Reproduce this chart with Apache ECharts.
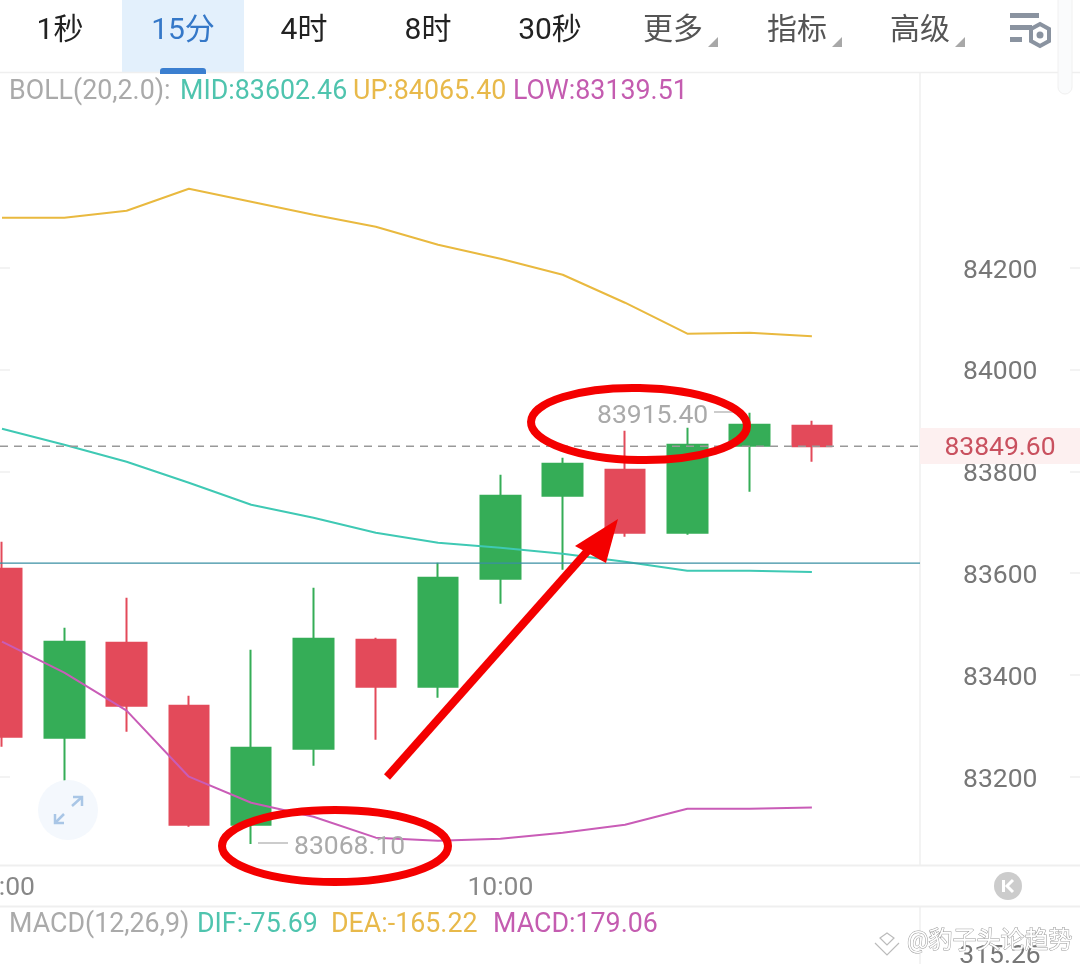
<!DOCTYPE html>
<html><head><meta charset="utf-8">
<style>html,body{margin:0;padding:0;background:#fff;overflow:hidden}#c{width:1080px;height:964px}</style>
<script src="https://cdn.jsdelivr.net/npm/echarts@6/dist/echarts.min.js"></script>
</head><body><div id="c"></div>
<script>
const times = ['08:00','08:15','08:30','08:45','09:00','09:15','09:30','09:45','10:00','10:15','10:30','10:45','11:00','11:15','',''];
const opens  = [83608.8,83276.8,83463.5,83339.7,83105.9,83255.2,83469.4,83377.0,83589.2,83752.3,83803.3,83679.6,83850.5,83889.8];
const closes = [83278.8,83465.4,83339.7,83105.9,83257.2,83471.3,83377.0,83591.2,83752.3,83815.1,83679.6,83852.5,83891.7,83849.6];
const lows   = [83259.1,83168.8,83288.6,83102.0,83068.1,83221.8,83272.9,83355.4,83540.1,83606.9,83671.7,83675.6,83760.1,83819.0];
const highs  = [83661.9,83492.9,83551.9,83359.3,83449.7,83571.5,83473.3,83620.6,83793.5,83826.9,83880.0,83885.8,83915.4,83899.6];
const bollUp  = [84298.4,84298.4,84312.2,84355.4,84329.8,84304.3,84280.7,84245.4,84217.9,84186.4,84131.4,84070.5,84072.5,84065.4];
const bollMid = [83883.9,83852.5,83819.0,83777.8,83734.6,83709.0,83679.6,83659.9,83650.1,83638.3,83622.6,83604.9,83604.9,83602.46];
const bollLow = [83465.4,83404.5,83329.9,83200.2,83149.1,83121.6,83080.4,83074.5,83078.4,83090.2,83105.9,83137.3,83137.3,83139.51];
const yTicks = [83200,83400,83600,83800,84000,84200];
const lastPrice = 83849.6;
const refLine = 83619.6;
const tabs = [['1秒',60,'#222'],['15分',183,'#3578c8'],['4时',304,'#222'],['8时',428,'#222'],['30秒',550,'#222'],['更多',673,'#555'],['指标',797,'#555'],['高级',920,'#555']];
const bollLegend = [['BOLL(20,2.0):',9,'#aaaaaa'],['MID:83602.46',180,'#4fc4ae'],['UP:84065.40',353,'#e8b94a'],['LOW:83139.51',513,'#c45cb0']];
const macdLegend = [['MACD(12,26,9)',9,'#aaaaaa'],['DIF:-75.69',197,'#4fc4ae'],['DEA:-165.22',331,'#e8b94a'],['MACD:179.06',493,'#c45cb0']];

const FONT = 'Roboto, "Noto Sans CJK SC", sans-serif';
const yScale = {min:83000,max:84600,scale:true,splitLine:{show:false},axisLine:{show:false}};
const txt = (text,x,y,fill,size,align,extra) => ({type:'text',silent:true,z:extra&&extra.z||50,style:Object.assign({text,x,y,fill,font:`${size}px ${FONT}`,align:align||'left',verticalAlign:'middle'},extra&&extra.style||{})});
const hl = (x1,x2,y,stroke,w) => ({type:'line',silent:true,z:1,shape:{x1,y1:y,x2,y2:y},style:{stroke,lineWidth:w||1.5}});
const vl = (x,y1,y2,stroke) => ({type:'line',silent:true,z:1,shape:{x1:x,y1,x2:x,y2},style:{stroke,lineWidth:1.5}});
const poly = (points,fill,z) => ({type:'polygon',silent:true,z:z||50,shape:{points},style:{fill}});

const graphic = [
  {type:'rect',silent:true,z:0,shape:{x:122,y:0,width:122,height:72},style:{fill:'#e3f0fc'}},
  {type:'rect',silent:true,z:2,shape:{x:160,y:68,width:46,height:6,r:[3,3,0,0]},style:{fill:'#3b7fd0'}},
  hl(0,1080,72.5,'#efefef'),hl(0,1080,865.5,'#efefef',2),hl(0,1080,906.5,'#efefef',2),
  vl(920,73,865,'#efefef'),vl(920,907,964,'#efefef'),
  {type:'rect',silent:true,z:3,shape:{x:920,y:428,width:160,height:36},style:{fill:'#fdf0f0'}},
  txt('83849.60',1000,448,'#c9515f',26.5,'center'),
  txt('315.26',1000,956,'#777777',26.5,'center'),
  ...tabs.map(t=>txt(t[0],t[1],31,t[2],30,'center')),
  ...[708,832,955].map(x=>poly([[x+10,37],[x+10,47],[x,47]],'#a8a8a8')),
  ...bollLegend.map(t=>txt(t[0],t[1],92,t[2],26.8)),
  ...macdLegend.map(t=>txt(t[0],t[1],925,t[2],26.8)),
  // toolbar settings icon and scrollbar
  {type:'rect',silent:true,z:5,shape:{x:1010,y:13,width:29,height:5},style:{fill:'#8a93a0'}},
  {type:'rect',silent:true,z:5,shape:{x:1010,y:25,width:22,height:5},style:{fill:'#8a93a0'}},
  {type:'rect',silent:true,z:5,shape:{x:1010,y:37,width:12,height:5},style:{fill:'#8a93a0'}},
  {type:'polygon',silent:true,z:5,shape:{points:[[1040,24],[1049,29],[1049,41],[1040,46],[1031,41],[1031,29]]},style:{fill:'#fff',stroke:'#8a93a0',lineWidth:4}},
  {type:'circle',silent:true,z:5,shape:{cx:1040,cy:35,r:3.5},style:{fill:'#8a93a0'}},
  {type:'rect',silent:true,z:5,shape:{x:1058,y:-10,width:14,height:104,r:7},style:{fill:'#fafbfc',stroke:'#f0f0f0',lineWidth:1}},
  // expand button
  {type:'circle',silent:true,z:40,shape:{cx:68,cy:810,r:30},style:{fill:'#f4f8fd'}},
  {type:'polyline',silent:true,z:41,shape:{points:[[72,806],[82,797]]},style:{stroke:'#a9c6e6',lineWidth:2.5,fill:null}},
  {type:'polyline',silent:true,z:41,shape:{points:[[73,797],[82,797],[82,806]]},style:{stroke:'#a9c6e6',lineWidth:2.5,fill:null}},
  {type:'polyline',silent:true,z:41,shape:{points:[[64,814],[55,823]]},style:{stroke:'#a9c6e6',lineWidth:2.5,fill:null}},
  {type:'polyline',silent:true,z:41,shape:{points:[[55,814],[55,823],[64,823]]},style:{stroke:'#a9c6e6',lineWidth:2.5,fill:null}},
  // jump-to-latest button
  {type:'circle',silent:true,z:40,shape:{cx:1008,cy:886,r:14},style:{fill:'#cccccc'}},
  {type:'rect',silent:true,z:41,shape:{x:1002,y:880,width:3,height:12},style:{fill:'#fff'}},
  {type:'polyline',silent:true,z:41,shape:{points:[[1013,880],[1007,886],[1013,892]]},style:{stroke:'#fff',lineWidth:3,fill:null}},
  // high / low labels
  txt('83915.40',597,416,'#aaaaaa',26.5),
  {type:'line',silent:true,z:50,shape:{x1:714,y1:412,x2:742,y2:412},style:{stroke:'#bbbbbb',lineWidth:1.5}},
  txt('83068.10',294,847,'#aaaaaa',26.5),
  {type:'line',silent:true,z:50,shape:{x1:258,y1:843,x2:288,y2:843},style:{stroke:'#bbbbbb',lineWidth:1.5}},
  // red hand-drawn annotations
  {type:'ellipse',silent:true,z:60,shape:{cx:639,cy:424,rx:108,ry:36},rotation:-0.02,originX:639,originY:424,style:{fill:null,stroke:'#f40000',lineWidth:8}},
  {type:'ellipse',silent:true,z:60,shape:{cx:335,cy:846,rx:113,ry:36},style:{fill:null,stroke:'#f40000',lineWidth:8}},
  {type:'line',silent:true,z:60,shape:{x1:387,y1:777,x2:592,y2:546},style:{stroke:'#f40000',lineWidth:8}},
  poly([[618,519],[575,546],[606,563]],'#f40000',60),
  // watermark
  {type:'polyline',silent:true,z:70,shape:{points:[[875,943],[887,955],[899,943]]},style:{fill:null,stroke:'#bbbbbb',lineWidth:1.2}},
  {type:'polygon',silent:true,z:70,shape:{points:[[880,938],[887,933],[894,938],[887,945]]},style:{fill:null,stroke:'#bbbbbb',lineWidth:1.2}},
  {type:'text',silent:true,z:70,style:{text:'@豹子头论趋势',x:907,y:942,font:`24px ${FONT}`,fill:'#ffffff',stroke:'#999999',lineWidth:1,verticalAlign:'middle'}}
];

const chart = echarts.init(document.getElementById('c'),null,{renderer:'canvas'});
chart.setOption({
  animation:false,
  backgroundColor:'#ffffff',
  textStyle:{fontFamily:FONT},
  grid:[
    {left:-29.15,width:996.8,top:64.2,height:814.4,outerBoundsMode:'none',containLabel:false},
    {left:0,width:920,top:64.2,height:814.4,outerBoundsMode:'none',containLabel:false},
    {left:0,width:920,top:67.4,height:814.4,outerBoundsMode:'none',containLabel:false}
  ],
  xAxis:[
    {type:'category',gridIndex:0,data:times,boundaryGap:true,
     axisLine:{show:false},axisTick:{show:false},splitLine:{show:false},
     axisLabel:{interval:7,color:'#888888',fontSize:26.5,margin:-3,showMinLabel:true,hideOverlap:false}},
    {type:'value',gridIndex:1,min:0,max:1,show:false},
    {type:'value',gridIndex:2,min:0,max:1,show:false}
  ],
  yAxis:[
    Object.assign({type:'value',gridIndex:0,show:false},yScale),
    Object.assign({type:'value',gridIndex:1,position:'right',
      axisTick:{show:true,length:10,lineStyle:{color:'#f0f0f0',width:1.5},customValues:yTicks},
      axisLabel:{show:false}},yScale),
    Object.assign({type:'value',gridIndex:1,position:'right',offset:160,
      axisTick:{show:true,inside:true,length:10,lineStyle:{color:'#f0f0f0',width:1.5},customValues:yTicks},
      axisLabel:{show:false}},yScale),
    Object.assign({type:'value',gridIndex:2,position:'right',
      axisTick:{show:false},
      axisLabel:{show:true,color:'#777777',fontSize:26.5,margin:43,customValues:yTicks,formatter:v=>String(v)}},yScale)
  ],
  series:[
    {type:'candlestick',xAxisIndex:0,yAxisIndex:0,barWidth:40,z:2,
     data:opens.map((o,i)=>[o,closes[i],lows[i],highs[i]]),
     itemStyle:{color:'#35ad57',color0:'#e34a5a',borderColor:'#35ad57',borderColor0:'#e34a5a',borderWidth:2}},
    {type:'line',name:'UP',xAxisIndex:0,yAxisIndex:0,data:bollUp,symbol:'none',z:3,lineStyle:{color:'#e9b93f',width:2}},
    {type:'line',name:'MID',xAxisIndex:0,yAxisIndex:0,data:bollMid,symbol:'none',z:3,lineStyle:{color:'#3fc9b4',width:2}},
    {type:'line',name:'LOW',xAxisIndex:0,yAxisIndex:0,data:bollLow,symbol:'none',z:3,lineStyle:{color:'#c95cb7',width:2}},
    {type:'line',name:'last',xAxisIndex:1,yAxisIndex:1,data:[[0,lastPrice],[1,lastPrice]],symbol:'none',z:4,lineStyle:{color:'#999999',width:1.5,type:[8,6]}},
    {type:'line',name:'ref',xAxisIndex:1,yAxisIndex:1,data:[[0,refLine],[1,refLine]],symbol:'none',z:4,lineStyle:{color:'#3a8fa3',width:1.2}}
  ],
  graphic
});
</script></body></html>
